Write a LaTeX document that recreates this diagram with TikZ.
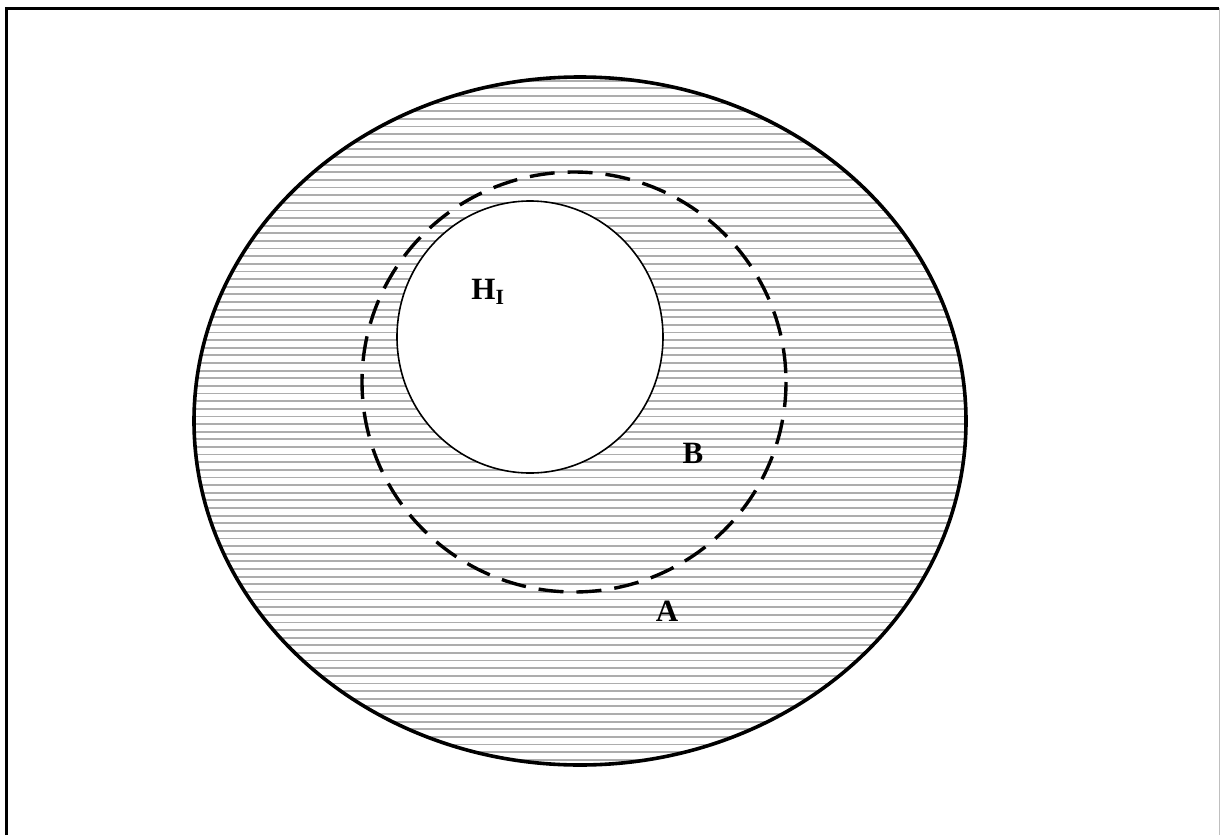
\documentclass[tikz,border=0pt]{standalone}
\usepackage{fontspec}
\setmainfont{Liberation Serif}
\tikzset{
  outerring/.style={line width=3.6pt, draw=black},
  dashring/.style={line width=3.4pt, draw=black, dash pattern=on 25pt off 13pt},
  hole/.style={line width=1.6pt, draw=black, fill=white},
  hatchline/.style={line width=1.8pt, draw=black!32},
  lbl/.style={font=\fontsize{31}{37}\selectfont\bfseries, inner sep=0pt},
}
\begin{document}
\begin{tikzpicture}[x=1pt,y=-1pt]
\useasboundingbox (0,0) rectangle (1220,835);
% frame
\draw[line width=3pt] (6,835) -- (6,8) -- (1219,8);
\draw[line width=1pt, draw=black!25] (1219,8) -- (1219,835);
% hatching
\begin{scope}
  \clip (580,421) ellipse [x radius=386, y radius=344];
  \foreach \i in {0,...,92} {
    \draw[hatchline] (190,{80.7+7.63*\i}) -- (970,{80.7+7.63*\i});
  }
\end{scope}
% shapes
\draw[outerring] (580,421) ellipse [x radius=386, y radius=344];
\draw[hole] (530,337) ellipse [x radius=133, y radius=136];
\draw[dashring] (574,382) ellipse [x radius=212, y radius=210];
% labels
\node[lbl] (hi) at (488,292) {H\textsubscript{I}};
\node[lbl] (b) at (693,453) {B};
\node[lbl] (a) at (667,611) {A};
\end{tikzpicture}
\end{document}
